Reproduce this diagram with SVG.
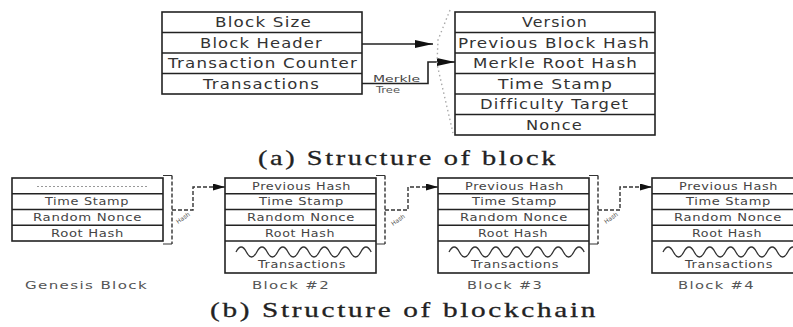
<svg xmlns="http://www.w3.org/2000/svg" width="793" height="327" viewBox="0 0 793 327">
<style>
.box{fill:#fff;stroke:#222;stroke-width:1.6}
.sep{stroke:#222;stroke-width:1.6}
.t{font-family:"DejaVu Sans",sans-serif;font-size:14px;fill:#333;letter-spacing:1px}
.s{font-family:"DejaVu Sans",sans-serif;font-size:10px;fill:#444;letter-spacing:0.5px}
.lbl{font-family:"DejaVu Sans",sans-serif;font-size:11px;fill:#555;letter-spacing:1px}
.title{font-family:"Liberation Serif",serif;font-size:22px;fill:#222;letter-spacing:2px;stroke:#222;stroke-width:0.3}
.arr{fill:none;stroke:#222;stroke-width:1.6}
.dash{fill:none;stroke:#333;stroke-width:1.4;stroke-dasharray:4 2}
.dot{fill:none;stroke:#aaa;stroke-width:1.4;stroke-dasharray:1.5 3}
.wave{fill:none;stroke:#333;stroke-width:1.3}
.tick{fill:none;stroke:#333;stroke-width:1.2}
</style>
<defs>
<marker id="ah" viewBox="0 0 18 8" refX="18" refY="4" markerWidth="18" markerHeight="8" markerUnits="userSpaceOnUse" orient="auto" preserveAspectRatio="none"><path d="M0,0 L18,4 L0,8 z" fill="#111"/></marker>
<marker id="as" viewBox="0 0 12 7" refX="12" refY="3.5" markerWidth="12" markerHeight="7" markerUnits="userSpaceOnUse" orient="auto" preserveAspectRatio="none"><path d="M0,0 L12,3.5 L0,7 z" fill="#111"/></marker>
</defs>
<rect width="793" height="327" fill="#fff"/>

<g id="block-structure">
<rect class="box" x="162" y="12" width="200" height="82"/>
<line class="sep" x1="162" y1="32.5" x2="362" y2="32.5"/>
<line class="sep" x1="162" y1="53" x2="362" y2="53"/>
<line class="sep" x1="162" y1="73.5" x2="362" y2="73.5"/>
<text class="t" x="215" y="27" textLength="97" lengthAdjust="spacingAndGlyphs">Block Size</text>
<text class="t" x="200" y="48" textLength="123" lengthAdjust="spacingAndGlyphs">Block Header</text>
<text class="t" x="168" y="68" textLength="190" lengthAdjust="spacingAndGlyphs">Transaction Counter</text>
<text class="t" x="203" y="89" textLength="117" lengthAdjust="spacingAndGlyphs">Transactions</text>
</g>

<g id="block-header">
<rect class="box" x="455" y="12" width="200" height="123"/>
<line class="sep" x1="455" y1="32.5" x2="655" y2="32.5"/>
<line class="sep" x1="455" y1="53" x2="655" y2="53"/>
<line class="sep" x1="455" y1="73.5" x2="655" y2="73.5"/>
<line class="sep" x1="455" y1="94" x2="655" y2="94"/>
<line class="sep" x1="455" y1="114.5" x2="655" y2="114.5"/>
<text class="t" x="522" y="27" textLength="66" lengthAdjust="spacingAndGlyphs">Version</text>
<text class="t" x="458" y="48" textLength="192" lengthAdjust="spacingAndGlyphs">Previous Block Hash</text>
<text class="t" x="473" y="68" textLength="165" lengthAdjust="spacingAndGlyphs">Merkle Root Hash</text>
<text class="t" x="498" y="89" textLength="115" lengthAdjust="spacingAndGlyphs">Time Stamp</text>
<text class="t" x="480" y="109" textLength="149" lengthAdjust="spacingAndGlyphs">Difficulty Target</text>
<text class="t" x="526" y="130" textLength="57" lengthAdjust="spacingAndGlyphs">Nonce</text>
</g>

<text class="title" x="258" y="165" textLength="300" lengthAdjust="spacingAndGlyphs">(a) Structure of block</text>

<g id="genesis-block">
<rect class="box" x="12" y="178" width="151" height="63"/>
<line class="sep" x1="12" y1="193.8" x2="163" y2="193.8"/>
<line class="sep" x1="12" y1="209.5" x2="163" y2="209.5"/>
<line class="sep" x1="12" y1="225.3" x2="163" y2="225.3"/>
<line x1="37" y1="186.5" x2="147" y2="186.5" stroke="#999" stroke-width="1.2" stroke-dasharray="2 2"/>
<text class="s" x="45" y="205" textLength="84" lengthAdjust="spacingAndGlyphs">Time Stamp</text>
<text class="s" x="33" y="221" textLength="109" lengthAdjust="spacingAndGlyphs">Random Nonce</text>
<text class="s" x="51" y="236.5" textLength="73" lengthAdjust="spacingAndGlyphs">Root Hash</text>
<text class="lbl" x="25" y="289" textLength="123" lengthAdjust="spacingAndGlyphs">Genesis Block</text>
</g>

<g id="block-2">
<rect class="box" x="225" y="178" width="151" height="95"/>
<line class="sep" x1="225" y1="193.8" x2="376" y2="193.8"/>
<line class="sep" x1="225" y1="209.5" x2="376" y2="209.5"/>
<line class="sep" x1="225" y1="225.3" x2="376" y2="225.3"/>
<line class="sep" x1="225" y1="241" x2="376" y2="241"/>
<text class="s" x="252" y="189.5" textLength="99" lengthAdjust="spacingAndGlyphs">Previous Hash</text>
<text class="s" x="259" y="205" textLength="85" lengthAdjust="spacingAndGlyphs">Time Stamp</text>
<text class="s" x="247" y="221" textLength="108" lengthAdjust="spacingAndGlyphs">Random Nonce</text>
<text class="s" x="265" y="236.5" textLength="70" lengthAdjust="spacingAndGlyphs">Root Hash</text>
<path class="wave" d="M236,252 q5.2,-10 10.4,0 t10.4,0 t10.4,0 t10.4,0 t10.4,0 t10.4,0 t10.4,0 t10.4,0 t10.4,0 t10.4,0 t10.4,0 t10.4,0 t10.4,0"/>
<text class="s" x="258" y="268" textLength="88" lengthAdjust="spacingAndGlyphs">Transactions</text>
<text class="lbl" x="252" y="289" textLength="78" lengthAdjust="spacingAndGlyphs">Block #2</text>
</g>

<g id="block-3">
<rect class="box" x="438" y="178" width="151" height="95"/>
<line class="sep" x1="438" y1="193.8" x2="589" y2="193.8"/>
<line class="sep" x1="438" y1="209.5" x2="589" y2="209.5"/>
<line class="sep" x1="438" y1="225.3" x2="589" y2="225.3"/>
<line class="sep" x1="438" y1="241" x2="589" y2="241"/>
<text class="s" x="465" y="189.5" textLength="99" lengthAdjust="spacingAndGlyphs">Previous Hash</text>
<text class="s" x="472" y="205" textLength="85" lengthAdjust="spacingAndGlyphs">Time Stamp</text>
<text class="s" x="460" y="221" textLength="108" lengthAdjust="spacingAndGlyphs">Random Nonce</text>
<text class="s" x="478" y="236.5" textLength="70" lengthAdjust="spacingAndGlyphs">Root Hash</text>
<path class="wave" d="M449,252 q5.2,-10 10.4,0 t10.4,0 t10.4,0 t10.4,0 t10.4,0 t10.4,0 t10.4,0 t10.4,0 t10.4,0 t10.4,0 t10.4,0 t10.4,0 t10.4,0"/>
<text class="s" x="471" y="268" textLength="88" lengthAdjust="spacingAndGlyphs">Transactions</text>
<text class="lbl" x="467" y="289" textLength="76" lengthAdjust="spacingAndGlyphs">Block #3</text>
</g>

<g id="block-4">
<rect class="box" x="652" y="178" width="151" height="95"/>
<line class="sep" x1="652" y1="193.8" x2="803" y2="193.8"/>
<line class="sep" x1="652" y1="209.5" x2="803" y2="209.5"/>
<line class="sep" x1="652" y1="225.3" x2="803" y2="225.3"/>
<line class="sep" x1="652" y1="241" x2="803" y2="241"/>
<text class="s" x="679" y="189.5" textLength="99" lengthAdjust="spacingAndGlyphs">Previous Hash</text>
<text class="s" x="686" y="205" textLength="85" lengthAdjust="spacingAndGlyphs">Time Stamp</text>
<text class="s" x="674" y="221" textLength="108" lengthAdjust="spacingAndGlyphs">Random Nonce</text>
<text class="s" x="692" y="236.5" textLength="70" lengthAdjust="spacingAndGlyphs">Root Hash</text>
<path class="wave" d="M663,252 q5.2,-10 10.4,0 t10.4,0 t10.4,0 t10.4,0 t10.4,0 t10.4,0 t10.4,0 t10.4,0 t10.4,0 t10.4,0 t10.4,0 t10.4,0 t10.4,0"/>
<text class="s" x="685" y="268" textLength="88" lengthAdjust="spacingAndGlyphs">Transactions</text>
<text class="lbl" x="678" y="289" textLength="77" lengthAdjust="spacingAndGlyphs">Block #4</text>
</g>

<text class="title" x="210" y="317" textLength="388" lengthAdjust="spacingAndGlyphs">(b) Structure of blockchain</text>

<g id="connectors">
<line class="arr" x1="362" y1="44" x2="433" y2="44" marker-end="url(#ah)"/>
<path class="arr" d="M362,83.5 L428,83.5 L428,62 L455,62" marker-end="url(#ah)"/>
<text x="373" y="82" font-family="DejaVu Sans,sans-serif" font-size="9" fill="#444" textLength="47" lengthAdjust="spacingAndGlyphs">Merkle</text>
<text x="376" y="93" font-family="DejaVu Sans,sans-serif" font-size="9" fill="#555" textLength="24" lengthAdjust="spacingAndGlyphs">Tree</text>
<path class="dot" d="M450,10 L438,40 L437,64 L453,133"/>

<path class="tick" d="M163,175.5 L172,175.5 M163,244 L172,244"/>
<line class="dash" x1="172" y1="175.5" x2="172" y2="244"/>
<path class="dash" d="M172,210 L193,210 L193,187 L225,187" marker-end="url(#as)"/>
<text x="178" y="224" font-family="DejaVu Sans,sans-serif" font-size="6" fill="#555" transform="rotate(-35 178 224)">Hash</text>

<path class="tick" d="M376,175.5 L385,175.5 M376,244 L385,244"/>
<line class="dash" x1="385" y1="175.5" x2="385" y2="244"/>
<path class="dash" d="M385,210 L408,210 L408,187 L438,187" marker-end="url(#as)"/>
<text x="393" y="226" font-family="DejaVu Sans,sans-serif" font-size="6" fill="#555" transform="rotate(-35 393 226)">Hash</text>

<path class="tick" d="M589,175.5 L598,175.5 M589,244 L598,244"/>
<line class="dash" x1="598" y1="175.5" x2="598" y2="244"/>
<path class="dash" d="M598,210 L620,210 L620,187 L652,187" marker-end="url(#as)"/>
<text x="606" y="224" font-family="DejaVu Sans,sans-serif" font-size="6" fill="#555" transform="rotate(-35 606 224)">Hash</text>
</g>
</svg>
